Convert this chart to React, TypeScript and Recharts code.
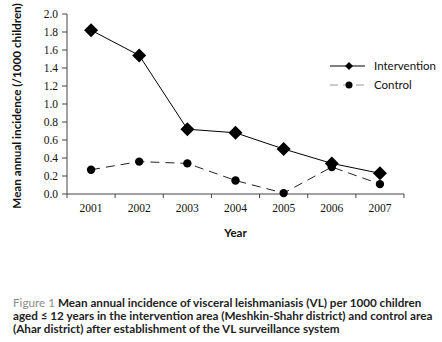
import React from 'react';
import { LineChart, Line, XAxis, YAxis, Legend } from 'recharts';

const years = ['2001', '2002', '2003', '2004', '2005', '2006', '2007'];
const intervention = [1.82, 1.54, 0.72, 0.68, 0.5, 0.34, 0.23];
const control = [0.27, 0.36, 0.34, 0.15, 0.01, 0.3, 0.11];
const yTicks = [0, 0.2, 0.4, 0.6, 0.8, 1.0, 1.2, 1.4, 1.6, 1.8, 2.0];

const data = years.map((year, i) => ({
  year,
  intervention: intervention[i],
  control: control[i],
}));

const serif = '"Liberation Serif", "DejaVu Serif", serif';
const sans = 'Lato, "Open Sans", "DejaVu Sans", sans-serif';

const Diamond = (props: any) => {
  const { cx, cy } = props;
  if (cx == null || cy == null) return null;
  const s = 7;
  return (
    <path
      d={`M${cx},${cy - s} L${cx + s},${cy} L${cx},${cy + s} L${cx - s},${cy} Z`}
      fill="#000"
    />
  );
};

const Dot = (props: any) => {
  const { cx, cy } = props;
  if (cx == null || cy == null) return null;
  return <circle cx={cx} cy={cy} r={4.2} fill="#000" />;
};

// labels sit at band centres, tick marks at band edges
const BAND = 48.14;
const YearTick = (props: any) => {
  const { x, y, payload, index } = props;
  return (
    <g>
      <line x1={x - BAND / 2} x2={x - BAND / 2} y1={y - 8} y2={y - 4} stroke="#444" />
      {index === years.length - 1 && (
        <line x1={x + BAND / 2} x2={x + BAND / 2} y1={y - 8} y2={y - 4} stroke="#444" />
      )}
      <text x={x} y={y + 10} textAnchor="middle" fontFamily={serif} fontSize={11.5} fill="#111">
        {payload.value}
      </text>
    </g>
  );
};

const LegendBox = () => (
  <svg width={110} height={36}>
    <line x1={2} x2={37} y1={8} y2={8} stroke="#000" strokeWidth={1} />
    <path d="M21,4 L25,8 L21,12 L17,8 Z" fill="#000" />
    <text x={46} y={12} fontFamily={sans} fontSize={11.5} fill="#111">Intervention</text>
    <line x1={2} x2={37} y1={27} y2={27} stroke="#999" strokeWidth={1.2} strokeDasharray="8 5" />
    <circle cx={21} cy={27} r={3.5} fill="#000" />
    <text x={46} y={31} fontFamily={sans} fontSize={11.5} fill="#111">Control</text>
  </svg>
);

export default function App() {
  return (
    <div style={{ position: 'absolute', left: 0, top: 0, width: 442, height: 342, background: '#fff' }}>
      <LineChart width={442} height={280} data={data} margin={{ top: 14, right: 38, left: 0, bottom: 0 }}>
        <XAxis
          dataKey="year"
          scale="band"
          height={46}
          axisLine={{ stroke: '#444' }}
          tickLine={false}
          tick={<YearTick />}
          interval={0}
          label={{ value: 'Year', position: 'insideBottom', offset: 3, style: { fontFamily: sans, fontWeight: 700, fontSize: 11.5, fill: '#111' } }}
        />
        <YAxis
          width={67}
          domain={[0, 2]}
          ticks={yTicks}
          tickFormatter={(v: number) => v.toFixed(1)}
          axisLine={{ stroke: '#444' }}
          tickLine={{ stroke: '#444' }}
          tickSize={5}
          tickMargin={4}
          tick={{ fontFamily: serif, fontSize: 11.5, fill: '#111' }}
          label={{
            value: 'Mean annual incidence (/1000 children)',
            angle: -90,
            position: 'insideLeft',
            offset: 17,
            dy: 2,
            style: { textAnchor: 'middle', fontFamily: sans, fontWeight: 700, fontSize: 11.7, fill: '#111' },
          }}
        />
        <Legend content={<LegendBox />} wrapperStyle={{ top: 58, left: 328, width: 110 }} />
        <Line
          dataKey="intervention"
          stroke="#000"
          strokeWidth={1}
          dot={<Diamond />}
          activeDot={false}
          isAnimationActive={false}
        />
        <Line
          dataKey="control"
          stroke="#222"
          strokeWidth={1}
          strokeDasharray="9 6"
          dot={<Dot />}
          activeDot={false}
          isAnimationActive={false}
        />
      </LineChart>
      <div
        style={{
          position: 'absolute',
          left: 13,
          top: 296,
          fontFamily: sans,
          fontSize: 11.7,
          fontWeight: 700,
          lineHeight: '13px',
          color: '#222',
          whiteSpace: 'nowrap',
        }}
      >
        <span style={{ color: '#8c8c8c', fontWeight: 400 }}>Figure 1 </span>
        Mean annual incidence of visceral leishmaniasis (VL) per 1000 children
        <br />
        aged ≤ 12 years in the intervention area (Meshkin-Shahr district) and control area
        <br />
        (Ahar district) after establishment of the VL surveillance system
      </div>
    </div>
  );
}
